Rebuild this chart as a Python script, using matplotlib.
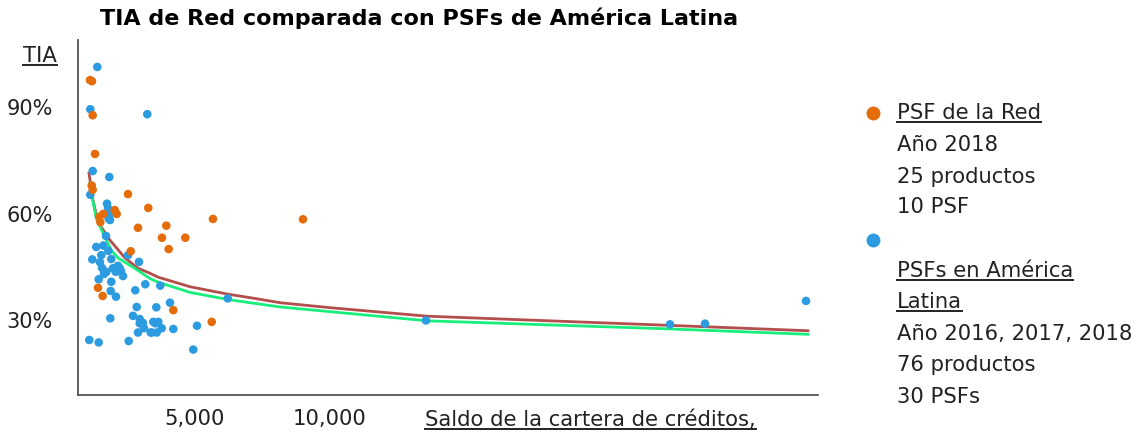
import matplotlib
matplotlib.use('Agg')
import matplotlib.pyplot as plt
from matplotlib.lines import Line2D

# PSF de la Red (2018) - saldo de cartera vs TIA (%)
red_x = [1111, 1185, 1211, 1296, 1174, 1211, 2519, 3270, 2026, 2100,
         1604, 1456, 1493, 2889, 2619, 1407, 1581, 4196, 5619, 5667,
         3937, 3778, 4641, 4026, 9000]
red_y = [97.6, 97.3, 87.7, 76.8, 67.9, 66.7, 65.5, 61.6, 61.0, 59.9,
         59.9, 59.1, 57.6, 56.0, 49.4, 39.1, 36.8, 32.8, 29.5, 58.5,
         56.6, 53.2, 53.2, 50.0, 58.4]

# PSFs en America Latina (2016-2018)
latam_x = [1381, 1122, 3233, 1211, 1826, 1122, 1741, 1878, 1804, 1852,
           1704, 1344, 1604, 1789, 1530, 1900, 1196, 2519, 1556, 1715,
           2148, 2063, 2211, 2333, 2926, 1433, 1900, 1878, 2074, 2789,
           3159, 2841, 1863, 2704, 2952, 2952, 3111, 2889, 3359, 3530,
           3567, 1085, 1433, 2544, 3715, 6211, 4074, 3456, 3641, 3396,
           3581, 3767, 4196, 5074, 4937, 13556, 22593, 23889, 27630, 1963,
           1630, 2259, 1778, 3074, 1481]
latam_y = [101.3, 89.4, 88.0, 72.0, 70.3, 65.3, 62.8, 60.1, 58.6, 58.2,
           53.7, 50.6, 51.0, 49.5, 48.3, 47.2, 47.1, 48.3, 44.7, 43.6,
           45.3, 43.6, 44.6, 42.4, 46.4, 41.5, 40.8, 38.2, 36.6, 38.4,
           40.1, 33.7, 30.5, 31.2, 30.3, 29.1, 27.7, 26.5, 26.5, 29.1,
           33.6, 24.4, 23.7, 24.1, 39.7, 36.1, 34.9, 29.5, 29.5, 26.5,
           26.5, 27.7, 27.5, 28.4, 21.7, 29.9, 28.8, 29.0, 35.4, 44.6,
           43.0, 43.8, 61.5, 29.2, 46.3]

# tendencias
trend_red_x = [1074, 1222, 1407, 1852, 2407, 2889, 3333, 3630, 4815, 6222,
               7222, 8148, 10000, 13593, 22630, 27704]
trend_red_y = [71.4, 63.8, 57.6, 52.5, 47.5, 44.6, 43.2, 42.1, 39.4, 37.3,
               36.1, 34.9, 33.5, 31.1, 28.5, 27.0]
trend_green_x = [1111, 1159, 1344, 1593, 1900, 2148, 2767, 3333, 3630, 4815,
                 6222, 7222, 8148, 13593, 22630, 27704]
trend_green_y = [68.6, 65.8, 58.7, 54.5, 49.7, 47.5, 44.6, 41.7, 40.7, 37.8,
                 35.8, 34.7, 33.7, 29.8, 27.5, 26.0]

y_ticks = [30, 60, 90]
y_labels = ['30%', '60%', '90%']
x_ticks = [5000, 10000]
x_labels = ['5,000', '10,000']

ORANGE = '#E46C0A'
BLUE = '#2C9BE0'
TEXT = '#222222'
FS = 15.2

W, H = 1140, 436


def fx(px):
    return px / W


def fy(py):
    return 1 - py / H


def underline(fig, txt, renderer, lw=1.4):
    bb = txt.get_window_extent(renderer=renderer)
    inv = fig.transFigure.inverted()
    (x0, y0), (x1, _) = inv.transform([(bb.x0, bb.y0 + 1), (bb.x1, bb.y1)])
    fig.add_artist(Line2D([x0, x1], [y0, y0], transform=fig.transFigure,
                          color=TEXT, lw=lw))


def main():
    plt.rcParams['font.family'] = ['DejaVu Sans']
    fig = plt.figure(figsize=(W / 100, H / 100), dpi=100)
    ax = fig.add_axes([fx(78), fy(395), fx(818) - fx(78), fy(40) - fy(395)])

    ax.plot(trend_red_x, trend_red_y, color='#B24F4C', lw=2, zorder=2)
    ax.plot(trend_green_x, trend_green_y, color='#17EE7B', lw=2, zorder=2)
    ax.scatter(latam_x, latam_y, s=38, color=BLUE, edgecolors='none', zorder=3)
    ax.scatter(red_x, red_y, s=38, color=ORANGE, edgecolors='none', zorder=3)

    ax.set_xlim(667, 28074)
    ax.set_ylim(8.9, 108.9)
    ax.set_xticks(x_ticks)
    ax.set_xticklabels(x_labels)
    ax.set_yticks(y_ticks)
    ax.set_yticklabels(y_labels)
    ax.tick_params(length=0, colors=TEXT)
    ax.tick_params(axis='y', pad=18, labelsize=15)
    ax.tick_params(axis='x', pad=10, labelsize=FS)
    for side in ['top', 'right']:
        ax.spines[side].set_visible(False)
    for side in ['left', 'bottom']:
        ax.spines[side].set_color('#555555')
        ax.spines[side].set_linewidth(1.3)

    fig.text(fx(100), fy(18), 'TIA de Red comparada con PSFs de América Latina',
             fontsize=16, fontweight='bold', color='black', va='center')

    under = []
    under.append(fig.text(fx(57), fy(56), 'TIA', fontsize=FS, color=TEXT,
                          ha='right', va='center'))
    under.append(fig.text(fx(425), fy(420), 'Saldo de la cartera de créditos,',
                          fontsize=FS, color=TEXT, va='center'))

    # leyenda
    fig.add_artist(Line2D([fx(873)], [fy(113)], marker='o', ms=9, color=ORANGE,
                          transform=fig.transFigure))
    fig.add_artist(Line2D([fx(873)], [fy(240)], marker='o', ms=9, color=BLUE,
                          transform=fig.transFigure))
    lx = fx(897)
    lines = [('PSF de la Red', 113, True), ('Año 2018', 145, False),
             ('25 productos', 177, False), ('10 PSF', 207, False),
             ('PSFs en América', 271, True), ('Latina', 302, True),
             ('Año 2016, 2017, 2018', 334, False), ('76 productos', 365, False),
             ('30 PSFs', 397, False)]
    for label, py, ul in lines:
        t = fig.text(lx, fy(py), label, fontsize=FS, color=TEXT, va='center')
        if ul:
            under.append(t)

    renderer = fig.canvas.get_renderer()
    for t in under:
        underline(fig, t, renderer)

    fig.savefig('out.png', dpi=100)
    plt.close(fig)


if __name__ == "__main__":
    main()
